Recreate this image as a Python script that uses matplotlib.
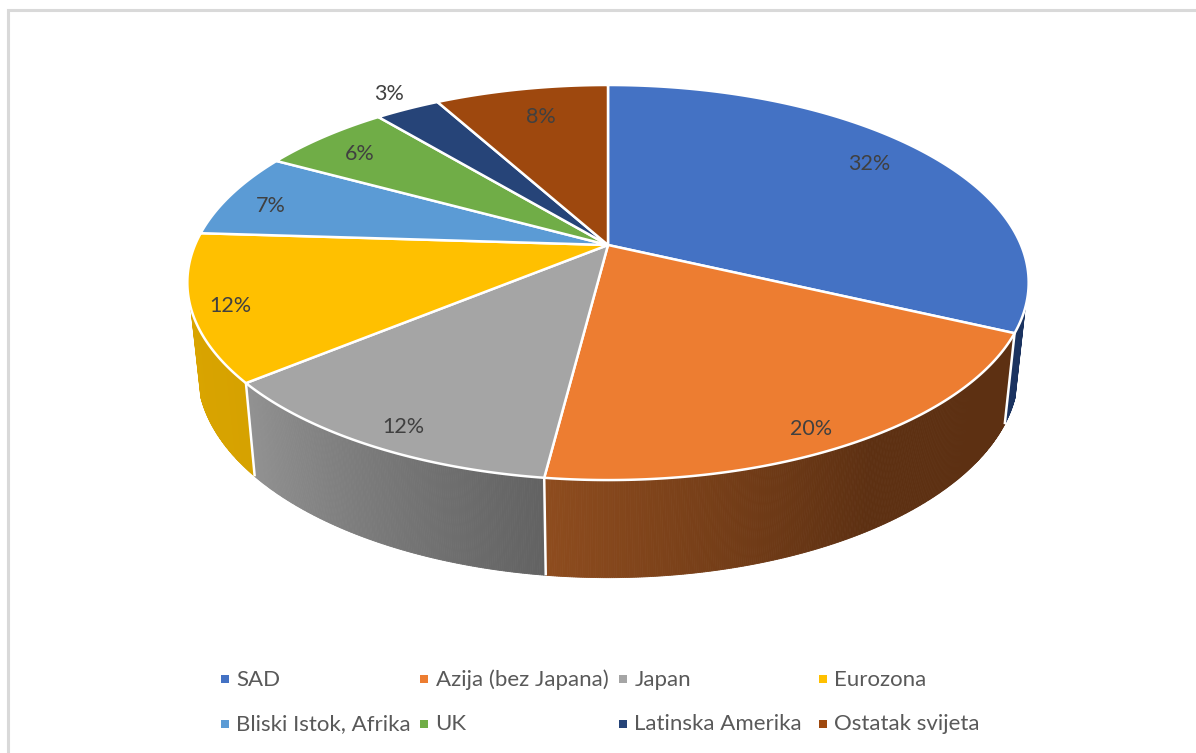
import numpy as np
import matplotlib
matplotlib.use('Agg')
import matplotlib.pyplot as plt
from matplotlib.patches import Rectangle

# data
categories = ['SAD', 'Azija (bez Japana)', 'Japan', 'Eurozona',
              'Bliski Istok, Afrika', 'UK', 'Latinska Amerika', 'Ostatak svijeta']
shares = [32, 20, 12, 12, 7, 6, 3, 8]
labels = ['32%', '20%', '12%', '12%', '7%', '6%', '3%', '8%']

# colours
top_colors = ['#4472C4', '#ED7D31', '#A5A5A5', '#FFC000',
              '#5B9BD5', '#70AD47', '#264478', '#9E480E']
side_colors = {0: ('#1B3360', '#1B3360'), 1: ('#8E4C1E', '#5D3012'),
               2: ('#929292', '#626262'), 3: ('#DCA600', '#D6A200')}

# perspective of the disc, in pixels
cx, top_y, rx, ry, k = 608, 245, 413, 190.4, 0.19
bot_y, bot_rx, bot_ry = 332, 403, 199
label_r = 0.85
label_nudge = [(-12, -1), (6, 19), (-8, 17), (-26, 8), (-15, 4), (-3, 3), (-45, -33), (8, 8)]


def project(theta, r=1.0, y0=top_y, a=rx, b=ry):
    # theta is in degrees, clockwise from 12 o'clock
    t = np.radians(theta)
    u, v = r * np.sin(t), r * np.cos(t)
    d = 1 + k * v
    return cx + a * u / d, y0 - b * v / d


fig = plt.figure(figsize=(11.96, 7.53), dpi=100)
ax = fig.add_axes([0, 0, 1, 1])
ax.set_xlim(0, 1196)
ax.set_ylim(753, 0)
ax.axis('off')

plt.rcParams['font.family'] = ['Lato', 'DejaVu Sans']

# chart frame
ax.plot([8, 8, 1196], [753, 10, 10], color='#D9D9D9', lw=2.2, solid_joinstyle='miter')

edges = np.concatenate([[0], np.cumsum(shares)]) * 3.6

# side wall, only the part facing us
vis_from, vis_to = 108, 252
for i in range(len(shares)):
    a0, a1 = max(edges[i], vis_from), min(edges[i + 1], vis_to)
    if a0 >= a1:
        continue
    c0, c1 = np.array(matplotlib.colors.to_rgb(side_colors[i][0])), np.array(matplotlib.colors.to_rgb(side_colors[i][1]))
    steps = np.linspace(a0, a1, int((a1 - a0) * 4) + 2)
    for s0, s1 in zip(steps[:-1], steps[1:]):
        # the gradient runs from the left end of the slice and levels off on the orange one
        f = (edges[i + 1] - (s0 + s1) / 2) / (edges[i + 1] - edges[i])
        if i == 1:
            f = min(f / 0.55, 1)
        if i == 0:
            f = 0
        col = c0 + (c1 - c0) * f
        xt0, yt0 = project(s0)
        xt1, yt1 = project(s1)
        xb0, yb0 = project(s0, y0=bot_y, a=bot_rx, b=bot_ry)
        xb1, yb1 = project(s1, y0=bot_y, a=bot_rx, b=bot_ry)
        ax.fill([xt0, xt1, xb1, xb0], [yt0, yt1, yb1, yb0], color=col, lw=0.6, zorder=2)

# white separators on the wall
for e in edges:
    if vis_from < e < vis_to:
        xt, yt = project(e)
        xb, yb = project(e, y0=bot_y, a=bot_rx, b=bot_ry)
        ax.plot([xt, xb], [yt, yb], color='white', lw=1.8, zorder=3, solid_capstyle='butt')

# top of the pie
for i in range(len(shares)):
    th = np.linspace(edges[i], edges[i + 1], 120)
    xs, ys = project(th)
    ax.fill(np.r_[cx, xs], np.r_[top_y, ys], facecolor=top_colors[i], edgecolor='white',
            lw=1.8, joinstyle='round', zorder=4)

# data labels
mid = (edges[:-1] + edges[1:]) / 2
for i, txt in enumerate(labels):
    x, y = project(mid[i], r=label_r)
    ax.text(x + label_nudge[i][0], y + label_nudge[i][1], txt, ha='center', va='center',
            fontsize=15.5, color='#404040', zorder=5)

# legend, 4 columns 2 rows
col_x = [225, 424, 623, 823]
row_y = [679, 724]
for i, name in enumerate(categories):
    x, y = col_x[i % 4], row_y[i // 4]
    ax.add_patch(Rectangle((x - 4, y - 4), 8, 8, facecolor=top_colors[i], edgecolor='none'))
    ax.text(x + 11.5, y + 0.5, name, ha='left', va='center', fontsize=16, color='#595959')

fig.savefig('out.png', dpi=100)
